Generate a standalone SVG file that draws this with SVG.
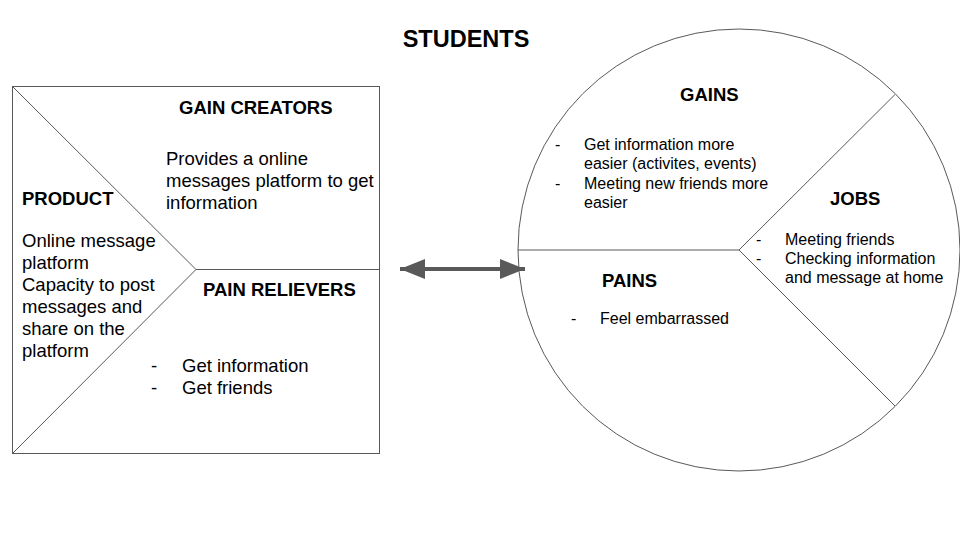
<svg xmlns="http://www.w3.org/2000/svg" width="960" height="540" viewBox="0 0 960 540">
  <style>
    .shape { fill: none; stroke: #595959; stroke-width: 1; }
    text { font-family: "Liberation Sans", Arial, sans-serif; fill: #000; }
    .title { font-size: 23.5px; font-weight: bold; }
    .head { font-size: 18.5px; font-weight: bold; }
    .body { font-size: 18.5px; }
    .small { font-size: 16px; }
  </style>
  <defs>
    <marker id="arrowEnd" viewBox="0 0 25 20" refX="25" refY="10" markerWidth="25" markerHeight="20" markerUnits="userSpaceOnUse" orient="auto">
      <path d="M0,0 L25,10 L0,20 Z" fill="#595959"/>
    </marker>
    <marker id="arrowStart" viewBox="0 0 25 20" refX="0" refY="10" markerWidth="25" markerHeight="20" markerUnits="userSpaceOnUse" orient="auto">
      <path d="M25,0 L0,10 L25,20 Z" fill="#595959"/>
    </marker>
  </defs>
  <rect width="960" height="540" fill="#fff"/>

  <text class="title" x="466" y="47" text-anchor="middle">STUDENTS</text>

  <!-- value map (square) -->
  <g id="value-map">
    <rect class="shape" x="12.5" y="86.5" width="367" height="367"/>
    <path class="shape" d="M12.5,86.5 L196,269.5 L12.5,453.5 M196,269.5 L379.5,269.5"/>
  </g>

  <g id="gain-creators">
    <text class="head" x="179" y="114">GAIN CREATORS</text>
    <text class="body" x="166" y="165">Provides a online</text>
    <text class="body" x="166" y="187">messages platform to get</text>
    <text class="body" x="166" y="209">information</text>
  </g>

  <g id="product">
    <text class="head" x="22" y="205">PRODUCT</text>
    <text class="body" x="22" y="247">Online message</text>
    <text class="body" x="22" y="269">platform</text>
    <text class="body" x="22" y="291">Capacity to post</text>
    <text class="body" x="22" y="313">messages and</text>
    <text class="body" x="22" y="335">share on the</text>
    <text class="body" x="22" y="357">platform</text>
  </g>

  <g id="pain-relievers">
    <text class="head" x="203" y="296">PAIN RELIEVERS</text>
    <text class="body" x="151" y="372">-</text>
    <text class="body" x="182" y="372">Get information</text>
    <text class="body" x="151" y="394">-</text>
    <text class="body" x="182" y="394">Get friends</text>
  </g>

  <!-- customer profile (circle) -->
  <g id="customer-profile">
    <circle class="shape" cx="739" cy="250" r="221"/>
    <path class="shape" d="M518,250 L739,250 L895,94.5 M739,250 L895,406"/>
  </g>

  <g id="gains">
    <text class="head" x="680" y="101">GAINS</text>
    <text class="small" x="555" y="150">-</text>
    <text class="small" x="584" y="150">Get information more</text>
    <text class="small" x="584" y="169">easier (activites, events)</text>
    <text class="small" x="555" y="189">-</text>
    <text class="small" x="584" y="189">Meeting new friends more</text>
    <text class="small" x="584" y="208">easier</text>
  </g>

  <g id="jobs">
    <text class="head" x="830" y="205">JOBS</text>
    <text class="small" x="756" y="245">-</text>
    <text class="small" x="785" y="245">Meeting friends</text>
    <text class="small" x="756" y="264">-</text>
    <text class="small" x="785" y="264">Checking information</text>
    <text class="small" x="785" y="283">and message at home</text>
  </g>

  <g id="pains">
    <text class="head" x="602" y="287">PAINS</text>
    <text class="small" x="571" y="324">-</text>
    <text class="small" x="600" y="324">Feel embarrassed</text>
  </g>

  <g id="connectors">
    <line x1="400" y1="269" x2="525" y2="269" stroke="#595959" stroke-width="4" marker-start="url(#arrowStart)" marker-end="url(#arrowEnd)"/>
  </g>
</svg>
